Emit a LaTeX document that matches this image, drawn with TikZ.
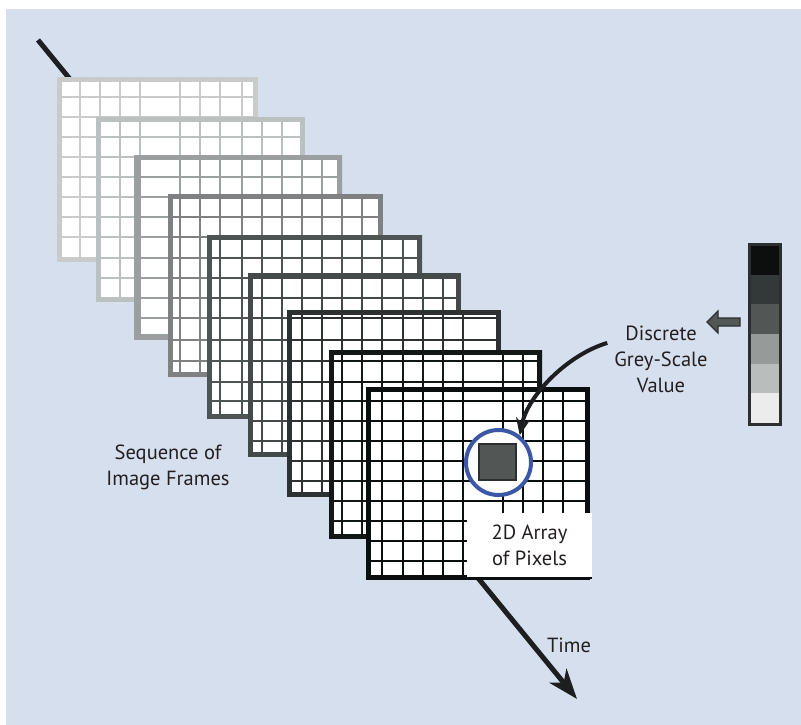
\documentclass[tikz,border=0pt]{standalone}
\usepackage{fontspec}
\setmainfont{PT Sans}
\usetikzlibrary{arrows.meta,calc}

\definecolor{bg}{HTML}{D5DFEE}
\definecolor{ink}{HTML}{231F20}
\definecolor{axis}{HTML}{1C1E1F}
\definecolor{ring}{HTML}{3B57A6}
\definecolor{fA}{HTML}{C9CBCA}
\definecolor{fB}{HTML}{BBC0C0}
\definecolor{fC}{HTML}{9B9F9F}
\definecolor{fD}{HTML}{7E8081}
\definecolor{fE}{HTML}{4E5354}
\definecolor{fF}{HTML}{444949}
\definecolor{fG}{HTML}{2D3131}
\definecolor{fH}{HTML}{131716}
\definecolor{fI}{HTML}{0B0E0E}
\definecolor{gA}{HTML}{0C0F0E}
\definecolor{gB}{HTML}{333838}
\definecolor{gC}{HTML}{525755}
\definecolor{gD}{HTML}{969B99}
\definecolor{gE}{HTML}{B9BDBC}
\definecolor{gF}{HTML}{EBECEB}
\definecolor{barline}{HTML}{2B2F2F}

\tikzset{
  gridline/.style={line width=2.9pt},
  frameline/.style={line width=5pt},
  lbl/.style={font=\fontsize{20.5}{26}\selectfont, text=ink, align=center, inner sep=0pt},
  timeline/.style={draw=axis, line width=5pt,
    -{Stealth[length=30pt,width=22pt,inset=9pt]}},
  pointer/.style={draw=axis, line width=4pt,
    -{Stealth[length=17pt,width=14pt,inset=5pt]}},
}

% shared pixel grid positions
\def\gridxs{80,100,120,140,180,200,220,242,262,282,302,322,342,362,382,403,423,443,463,503,523,543,563}
\def\gridys{97,117,137,157,177,197,217,237,258,278,298,318,340,361,382,401,421,441,461,481,501,521,541,561}

% one image frame: left, top, right, bottom, colour
\newcommand\pixframe[5]{%
  \fill[white] (#1,#2) rectangle (#3,#4);
  \begin{scope}
    \clip (#1,#2) rectangle (#3,#4);
    \foreach \gx in \gridxs {\draw[gridline,#5] (\gx,#2) -- (\gx,#4);}
    \foreach \gy in \gridys {\draw[gridline,#5] (#1,\gy) -- (#3,\gy);}
  \end{scope}
  \draw[frameline,#5] (#1+2.5,#2+2.5) rectangle (#3-2.5,#4-2.5);
}

\begin{document}
\begin{tikzpicture}[x=1pt,y=-1pt]
  \useasboundingbox (0,0) rectangle (801,725);
  \fill[white] (0,0) rectangle (801,725);
  \fill[bg] (6,9) rectangle (801,725);

  % time axis behind the stack
  \coordinate (tstart) at (38,40);
  \coordinate (tend) at (577,699);
  \draw[timeline] (tstart) -- (tend);

  % stack of frames, back to front
  \pixframe{57}{77}{258}{262}{fA}
  \pixframe{96}{117}{305}{302}{fB}
  \pixframe{134}{155}{342}{339}{fC}
  \pixframe{168}{194}{383}{377}{fD}
  \pixframe{207}{235}{422}{419}{fE}
  \pixframe{248}{273}{461}{457}{fF}
  \pixframe{287}{310}{501}{497}{fG}
  \pixframe{329}{350}{542}{539}{fH}
  \pixframe{366}{387}{590}{580}{fI}

  % highlighted pixel
  \node[circle, draw=ring, line width=4pt, fill=white, minimum size=65pt, inner sep=0pt]
    (pix) at (498.5,462.5) {};
  \node[rectangle, draw=barline, line width=2pt, fill=gC, minimum width=37pt,
    minimum height=36pt, inner sep=0pt] (cell) at (497.5,462) {};

  % caption box on the front frame
  \node[lbl, fill=white, minimum width=125pt, minimum height=65pt] (arr) at (529.5,545.5)
    {2D Array\\of Pixels};
  \draw[fI, line width=2pt] (arr.south west) -- (arr.south east);

  % labels
  \node[lbl] (seq) at (168,467) {Sequence of\\Image Frames};
  \node[lbl] (time) at (569,645) {Time};
  \node[lbl] (disc) at (661,359) {Discrete\\Grey-Scale\\Value};

  \draw[pointer] ($(disc.north west)+(-7,17.5)$) .. controls +(-40,12) and +(8,-40) .. (pix.52);

  % grey-scale bar
  \fill[gA] (748,243) rectangle (782,275);
  \fill[gB] (748,275) rectangle (782,304);
  \fill[gC] (748,304) rectangle (782,334);
  \fill[gD] (748,334) rectangle (782,364);
  \fill[gE] (748,364) rectangle (782,393);
  \fill[gF] (748,393) rectangle (782,426);
  \draw[barline, line width=3pt] (749.5,244.5) rectangle (780.5,424.5);

  % small arrow pointing at the label
  \filldraw[fill=gC, draw=barline, line width=1.2pt, line join=miter]
    (740,318) -- (718,318) -- (718,311) -- (707,322) -- (718,333) -- (718,326) -- (740,326) -- cycle;
\end{tikzpicture}
\end{document}
